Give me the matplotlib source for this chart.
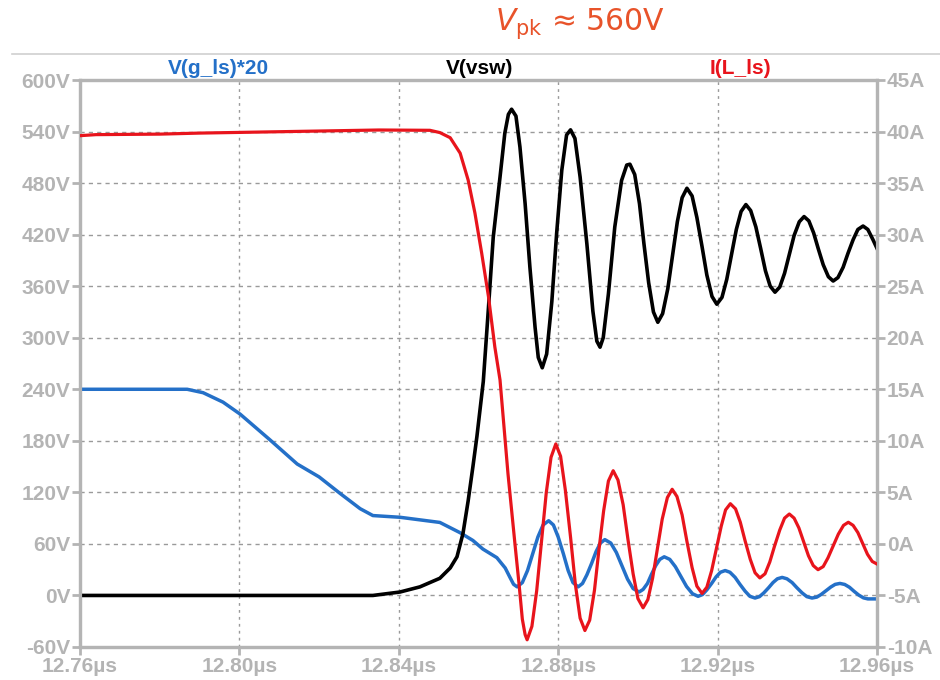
import matplotlib
matplotlib.use("Agg")
import matplotlib.pyplot as plt
from matplotlib.lines import Line2D

# ---------------- data (time in µs) ----------------
# V(vsw) [V]
vsw_t = [12.7600, 12.8335, 12.8403, 12.8453, 12.8503, 12.8529, 12.8546, 12.8561,
         12.8574, 12.8586, 12.8596, 12.8612, 12.8625, 12.8637, 12.8654, 12.8666,
         12.8675, 12.8683, 12.8694, 12.8704, 12.8717, 12.8729, 12.8742, 12.8750,
         12.8760, 12.8771, 12.8784, 12.8796, 12.8809, 12.8821, 12.8831, 12.8842,
         12.8855, 12.8872, 12.8887, 12.8897, 12.8905, 12.8913, 12.8926, 12.8942,
         12.8959, 12.8972, 12.8980, 12.8992, 12.9004, 12.9015, 12.9027, 12.9039,
         12.9050, 12.9062, 12.9075, 12.9087, 12.9099, 12.9111, 12.9123, 12.9136,
         12.9148, 12.9161, 12.9173, 12.9186, 12.9198, 12.9211, 12.9223, 12.9235,
         12.9247, 12.9259, 12.9271, 12.9283, 12.9296, 12.9308, 12.9320, 12.9332,
         12.9344, 12.9356, 12.9368, 12.9380, 12.9392, 12.9405, 12.9417, 12.9429,
         12.9441, 12.9453, 12.9465, 12.9478, 12.9490, 12.9502, 12.9515, 12.9527,
         12.9540, 12.9552, 12.9565, 12.9577, 12.9590, 12.9600]
vsw_v = [0, 0, 4, 10, 20, 32, 45, 72,
         110, 150, 185, 249, 335, 417, 487, 538,
         560, 566, 558, 522, 456, 382, 312, 277,
         265, 281, 342, 421, 495, 536, 542, 532,
         487, 409, 331, 296, 289, 300, 351, 429,
         483, 501, 502, 490, 456, 410, 364, 330,
         318, 328, 357, 396, 435, 463, 474, 465,
         440, 406, 373, 348, 339, 347, 368, 397,
         426, 447, 455, 448, 429, 404, 378, 360,
         353, 359, 375, 397, 419, 435, 441, 436,
         422, 403, 385, 371, 366, 370, 382, 398,
         414, 426, 430, 426, 414, 404]

# I(L_ls) [A]
il_t = [12.7600, 12.7640, 12.7800, 12.7900, 12.8050, 12.8200, 12.8350, 12.8478,
        12.8503, 12.8529, 12.8554, 12.8574, 12.8591, 12.8608, 12.8625, 12.8641,
        12.8654, 12.8674, 12.8692, 12.8702, 12.8710, 12.8717, 12.8722, 12.8734,
        12.8746, 12.8758, 12.8770, 12.8782, 12.8794, 12.8806, 12.8818, 12.8831,
        12.8843, 12.8855, 12.8867, 12.8879, 12.8891, 12.8902, 12.8914, 12.8926,
        12.8938, 12.8950, 12.8963, 12.8975, 12.8988, 12.9000, 12.9013, 12.9025,
        12.9037, 12.9049, 12.9061, 12.9074, 12.9086, 12.9098, 12.9111, 12.9123,
        12.9136, 12.9148, 12.9161, 12.9173, 12.9185, 12.9197, 12.9209, 12.9220,
        12.9232, 12.9245, 12.9257, 12.9269, 12.9282, 12.9294, 12.9306, 12.9319,
        12.9331, 12.9343, 12.9356, 12.9368, 12.9380, 12.9392, 12.9404, 12.9416,
        12.9428, 12.9440, 12.9452, 12.9465, 12.9477, 12.9490, 12.9503, 12.9516,
        12.9528, 12.9540, 12.9552, 12.9564, 12.9576, 12.9588, 12.9600]
il_a = [39.6, 39.7, 39.75, 39.85, 39.95, 40.05, 40.15, 40.12,
        39.9, 39.4, 37.9, 35.3, 32.1, 28.2, 24.0, 19.1,
        15.9, 6.8, -0.2, -4.0, -7.3, -8.8, -9.3, -8.0,
        -4.55, 0.2, 4.95, 8.4, 9.7, 8.5, 5.2, 0.65,
        -3.9, -7.2, -8.4, -7.4, -4.5, -0.65, 3.2, 6.1,
        7.1, 6.2, 3.8, 0.45, -2.9, -5.3, -6.2, -5.4,
        -3.3, -0.45, 2.4, 4.5, 5.3, 4.6, 2.8, 0.25,
        -2.3, -4.1, -4.8, -4.2, -2.6, -0.45, 1.7, 3.3,
        3.9, 3.4, 2.1, 0.3, -1.5, -2.8, -3.3, -2.9,
        -1.75, -0.2, 1.35, 2.5, 2.9, 2.5, 1.55, 0.2,
        -1.15, -2.1, -2.5, -2.2, -1.35, -0.2, 0.95, 1.8,
        2.1, 1.8, 1.1, 0.05, -1.0, -1.7, -1.95]

# V(g_ls)*20 [V]
vg_t = [12.7600, 12.7869, 12.7909, 12.7959, 12.8002, 12.8077, 12.8145, 12.8200,
        12.8252, 12.8303, 12.8335, 12.8403, 12.8453, 12.8503, 12.8554, 12.8586,
        12.8611, 12.8646, 12.8667, 12.8679, 12.8688, 12.8697, 12.8710, 12.8723,
        12.8736, 12.8749, 12.8762, 12.8776, 12.8788, 12.8800, 12.8813, 12.8825,
        12.8837, 12.8850, 12.8861, 12.8872, 12.8884, 12.8895, 12.8906, 12.8917,
        12.8932, 12.8946, 12.8960, 12.8974, 12.8988, 12.9003, 12.9013, 12.9024,
        12.9034, 12.9045, 12.9055, 12.9066, 12.9080, 12.9094, 12.9108, 12.9122,
        12.9137, 12.9151, 12.9162, 12.9173, 12.9185, 12.9196, 12.9207, 12.9219,
        12.9231, 12.9244, 12.9256, 12.9269, 12.9281, 12.9294, 12.9305, 12.9316,
        12.9328, 12.9339, 12.9350, 12.9362, 12.9374, 12.9387, 12.9399, 12.9412,
        12.9424, 12.9437, 12.9449, 12.9460, 12.9472, 12.9484, 12.9495, 12.9507,
        12.9519, 12.9531, 12.9542, 12.9554, 12.9566, 12.9577, 12.9600]
vg_v = [240, 240, 236, 225, 211, 181, 153, 138,
        119, 101, 93, 91, 88, 85, 73, 64,
        54, 44, 32, 21, 13, 10, 15, 29,
        48.5, 68, 82, 87, 82, 68, 48.5, 29,
        15, 10, 14, 24, 37.5, 51, 61, 65,
        61, 50, 34.5, 19, 8, 4, 7, 14,
        24.5, 35, 42, 45, 42, 33.5, 22, 10.5,
        2, -1, 1, 6.5, 14, 21.5, 27, 29,
        27, 21, 13, 5, -1, -3, -1.4, 3,
        9, 15, 19.4, 21, 19.4, 15, 9, 3,
        -1.4, -3, -1.9, 1.2, 5.5, 9.8, 12.9, 14,
        12.8, 9.5, 5, 0.5, -2.8, -4, -4]

x_ticks = [12.76, 12.80, 12.84, 12.88, 12.92, 12.96]
x_labels = ["12.76µs", "12.80µs", "12.84µs", "12.88µs", "12.92µs", "12.96µs"]
v_ticks = [-60, 0, 60, 120, 180, 240, 300, 360, 420, 480, 540, 600]
v_labels = [f"{v}V" for v in v_ticks]
a_ticks = [-10, -5, 0, 5, 10, 15, 20, 25, 30, 35, 40, 45]
a_labels = [f"{a}A" for a in a_ticks]

title_text = r"$V_{\mathrm{pk}}$ ≈ 560V"
trace_names = ["V(g_ls)*20", "V(vsw)", "I(L_ls)"]

# ---------------- style ----------------
GRAY = "#b4b4b4"
BLUE = "#2470c8"
RED = "#e8141c"
BLACK = "#000000"
TFONT = "Liberation Sans"

fig = plt.figure(figsize=(9.4, 6.8), dpi=100)
ax = fig.add_axes([80 / 940, 33 / 680, 797 / 940, 567 / 680])
ax2 = ax.twinx()

ax.set_xlim(12.76, 12.96)
ax.set_ylim(-60, 600)
ax2.set_ylim(-10, 45)

ax.set_xticks(x_ticks)
ax.set_xticklabels(x_labels)
ax.set_yticks(v_ticks)
ax.set_yticklabels(v_labels)
ax2.set_yticks(a_ticks)
ax2.set_yticklabels(a_labels)

for a in (ax, ax2):
    for s in a.spines.values():
        s.set_color(GRAY)
        s.set_linewidth(2.3)
    a.tick_params(length=6, width=2, color=GRAY, labelcolor=GRAY,
                  labelsize=15, pad=1)
for lab in ax.get_xticklabels() + ax.get_yticklabels() + ax2.get_yticklabels():
    lab.set_fontfamily(TFONT)
    lab.set_fontweight("bold")

# grid
for v in v_ticks[1:-1]:
    ax.axhline(v, color="#9a9a9a", lw=1.0, ls=(0, (3, 3)), zorder=0.5)
for t in x_ticks[1:-1]:
    ax.axvline(t, color="#9a9a9a", lw=1.0, ls=(0, (2, 3)), zorder=0.5)

# traces
ax.plot(vg_t, vg_v, color=BLUE, lw=2.5, zorder=3, solid_joinstyle="round")
ax.plot(vsw_t, vsw_v, color=BLACK, lw=2.6, zorder=4, solid_joinstyle="round")
ax2.plot(il_t, il_a, color=RED, lw=2.3, zorder=5, solid_joinstyle="round")
ax2.set_zorder(ax.get_zorder() + 1)
ax2.patch.set_visible(False)

# trace labels
for name, xc, col in zip(trace_names, [218, 480, 740], [BLUE, BLACK, RED]):
    fig.text(xc / 940, 1 - 68 / 680, name, color=col, fontsize=15,
             fontweight="bold", family=TFONT, ha="center", va="center")

# title
fig.text(580 / 940, 1 - 24 / 680, title_text, color="#e8532a", fontsize=21.5,
         ha="center", va="center")

# top separator line
fig.add_artist(Line2D([12 / 940, 1.0], [1 - 54 / 680, 1 - 54 / 680],
                      color="#d0d0d0", lw=1.2, transform=fig.transFigure))

fig.savefig("out.png", dpi=100)
